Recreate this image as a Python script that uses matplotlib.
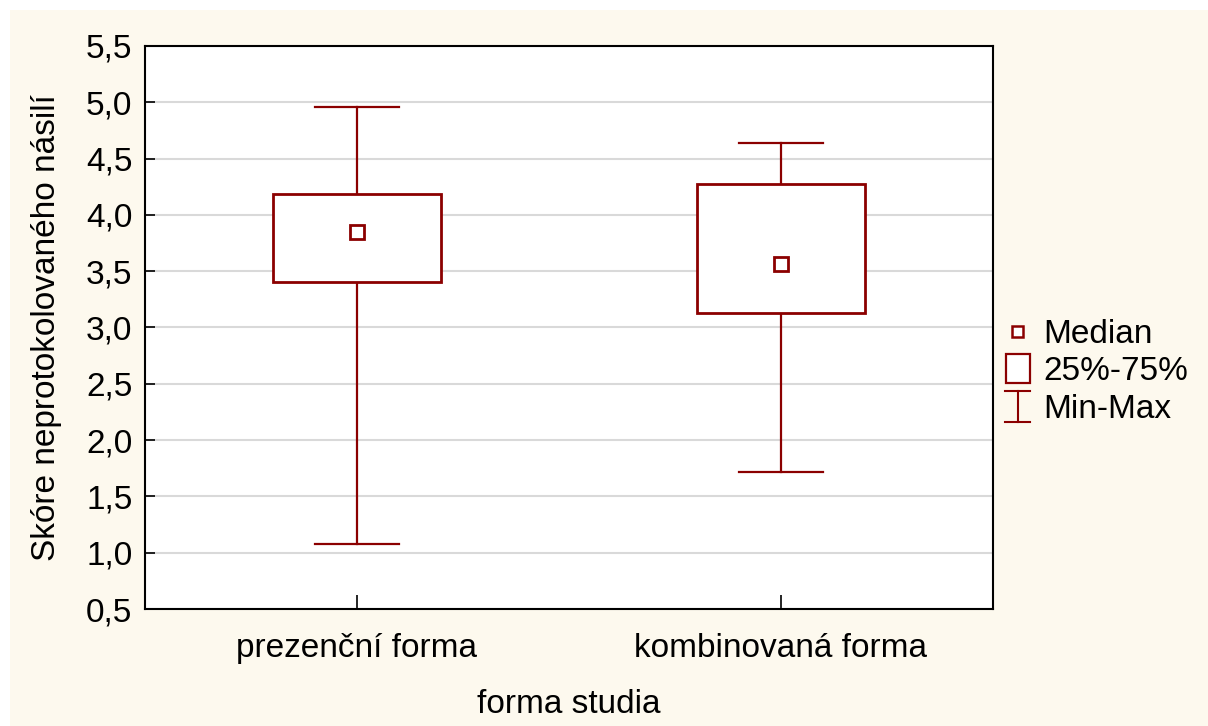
import numpy as np
import matplotlib
matplotlib.use('Agg')
import matplotlib.pyplot as plt
from matplotlib.lines import Line2D
from matplotlib.patches import Rectangle
from matplotlib.legend_handler import HandlerBase

# data
skupiny = ['prezenční forma', 'kombinovaná forma']
minima = [1.08, 1.72]
q1 = [3.40, 3.13]
mediany = [3.85, 3.56]
q3 = [4.19, 4.27]
maxima = [4.96, 4.64]
yticks = [0.5, 1.0, 1.5, 2.0, 2.5, 3.0, 3.5, 4.0, 4.5, 5.0, 5.5]

barva = '#8B0000'
pozadi = '#FDF9EE'

plt.rcParams['font.family'] = ['Liberation Sans', 'DejaVu Sans']


class HandlerMedian(HandlerBase):
    def create_artists(self, legend, orig_handle, xdescent, ydescent, width, height, fontsize, trans):
        s = 8
        cx = width / 2 - xdescent
        cy = height / 2 - ydescent
        r = Rectangle((cx - s / 2, cy - s / 2), s, s, facecolor='white', edgecolor=barva, lw=1.8, transform=trans)
        return [r]


class HandlerBox(HandlerBase):
    def create_artists(self, legend, orig_handle, xdescent, ydescent, width, height, fontsize, trans):
        w, h = 17, 21
        cx = width / 2 - xdescent
        cy = height / 2 - ydescent
        r = Rectangle((cx - w / 2, cy - h / 2), w, h, facecolor='white', edgecolor=barva, lw=1.6, transform=trans)
        return [r]


class HandlerWhisker(HandlerBase):
    def create_artists(self, legend, orig_handle, xdescent, ydescent, width, height, fontsize, trans):
        w, h = 18, 23
        cx = width / 2 - xdescent
        cy = height / 2 - ydescent
        car = [Line2D([cx, cx], [cy - h / 2, cy + h / 2], color=barva, lw=1.5, transform=trans),
               Line2D([cx - w / 2, cx + w / 2], [cy + h / 2, cy + h / 2], color=barva, lw=1.5, transform=trans),
               Line2D([cx - w / 2, cx + w / 2], [cy - h / 2, cy - h / 2], color=barva, lw=1.5, transform=trans)]
        return car


class Median:
    pass


class Box:
    pass


class Whisker:
    pass


fig = plt.figure(figsize=(12.08, 7.26), dpi=100, facecolor='white')
fig.patches.append(Rectangle((10 / 1208, 0), 1 - 10 / 1208, 1 - 10 / 726,
                             transform=fig.transFigure, facecolor=pozadi, edgecolor='none', zorder=-10))

ax = fig.add_axes([145 / 1208, 1 - 609 / 726, 848 / 1208, 563 / 726])
ax.set_facecolor('white')

pozice = np.arange(len(skupiny))
sirka_boxu = 0.394
sirka_vousu = 0.196

for i in range(len(skupiny)):
    x = pozice[i]
    # vousy
    ax.plot([x, x], [minima[i], q1[i]], color=barva, lw=1.6, zorder=3)
    ax.plot([x, x], [q3[i], maxima[i]], color=barva, lw=1.6, zorder=3)
    ax.plot([x - sirka_vousu / 2, x + sirka_vousu / 2], [minima[i], minima[i]], color=barva, lw=1.6, zorder=3)
    ax.plot([x - sirka_vousu / 2, x + sirka_vousu / 2], [maxima[i], maxima[i]], color=barva, lw=1.6, zorder=3)
    # box
    ax.add_patch(Rectangle((x - sirka_boxu / 2, q1[i]), sirka_boxu, q3[i] - q1[i],
                           facecolor='white', edgecolor=barva, lw=2, zorder=4))
    # median
    ax.plot(x, mediany[i], marker='s', ms=10, mfc='white', mec=barva, mew=2, zorder=5)

ax.set_xlim(-0.5, 1.5)
ax.set_ylim(0.5, 5.5)
ax.set_yticks(yticks)
ax.set_yticklabels([f'{v:.1f}'.replace('.', ',') for v in yticks])
ax.set_xticks(pozice)
ax.set_xticklabels(skupiny)
ax.grid(axis='y', color='#D9D9D9', lw=1.5, zorder=0)
ax.set_axisbelow(True)
ax.tick_params(direction='in', length=7, width=1.2, labelsize=24, colors='black')
ax.tick_params(axis='x', pad=17, length=10)
ax.tick_params(axis='y', pad=9)
for s in ax.spines.values():
    s.set_linewidth(1.5)

ax.set_ylabel('Skóre neprotokolovaného násilí', fontsize=24, labelpad=17)
ax.set_xlabel('forma studia', fontsize=24, labelpad=18)

ax.legend([Median(), Box(), Whisker()], ['Median', '25%-75%', 'Min-Max'],
          handler_map={Median: HandlerMedian(), Box: HandlerBox(), Whisker: HandlerWhisker()},
          loc='center left', bbox_to_anchor=(0.994, 1 - (372 - 46) / 563), frameon=False, fontsize=24,
          handlelength=1.0, handletextpad=0.25, labelspacing=0.2, borderaxespad=0)

fig.savefig('out.png', dpi=100, facecolor=fig.get_facecolor())
